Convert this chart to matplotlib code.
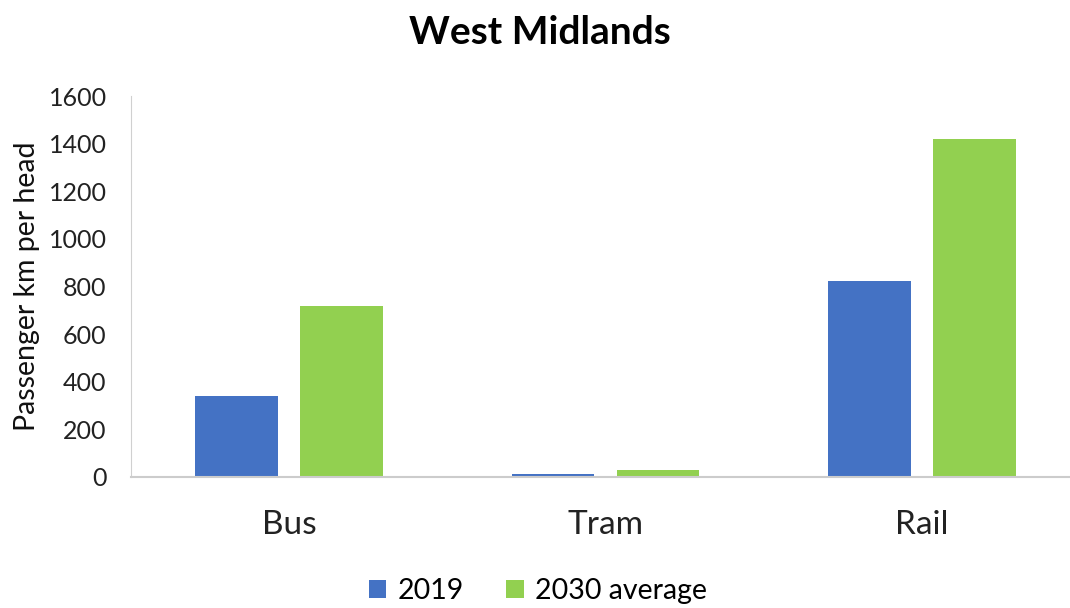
import matplotlib.pyplot as plt
import numpy as np

plt.rcParams['font.family'] = ['Lato', 'DejaVu Sans']

categories = ["Bus", "Tram", "Rail"]
values_2019 = [340, 12, 822]
values_2030 = [718, 30, 1420]
series_names = ["2019", "2030 average"]

fig = plt.figure(figsize=(10.7, 6.08), dpi=100)
ax = fig.add_axes([131 / 1070, 1 - 477 / 608, (1080 - 131) / 1070, (477 - 96) / 608])

x = np.arange(len(categories))
w = 0.262
ax.bar(x - 0.166, values_2019, w, color="#4472C4", label=series_names[0])
ax.bar(x + 0.166, values_2030, w, color="#92D050", label=series_names[1])

ax.set_xlim(-0.5, 2.5)
ax.set_ylim(0, 1600)
ax.set_yticks(range(0, 1601, 200))
ax.set_xticks(x)
ax.set_xticklabels(categories, fontsize=24)
ax.tick_params(axis="y", labelsize=18, length=0, pad=17.5, colors="#222222")
ax.tick_params(axis="x", length=0, pad=24, colors="#222222")

for s in ["top", "right"]:
    ax.spines[s].set_visible(False)
ax.spines["left"].set_color("#d0d0d0")
ax.spines["bottom"].set_color("#cccccc")
ax.spines["bottom"].set_linewidth(1.5)

ax.set_ylabel("Passenger km per head", fontsize=20.5, color="#111111", labelpad=6)
fig.text(540 / 1070, 1 - 33 / 608, "West Midlands", ha="center", va="center",
         fontsize=28, fontweight="bold")

fig.legend(loc="center", bbox_to_anchor=(538 / 1070, 1 - 591 / 608), ncol=2,
           frameon=False, fontsize=20.5, handlelength=0.6, handleheight=0.6,
           columnspacing=1.5, handletextpad=0.4, borderpad=0.2)

fig.savefig("out.png", dpi=100)
